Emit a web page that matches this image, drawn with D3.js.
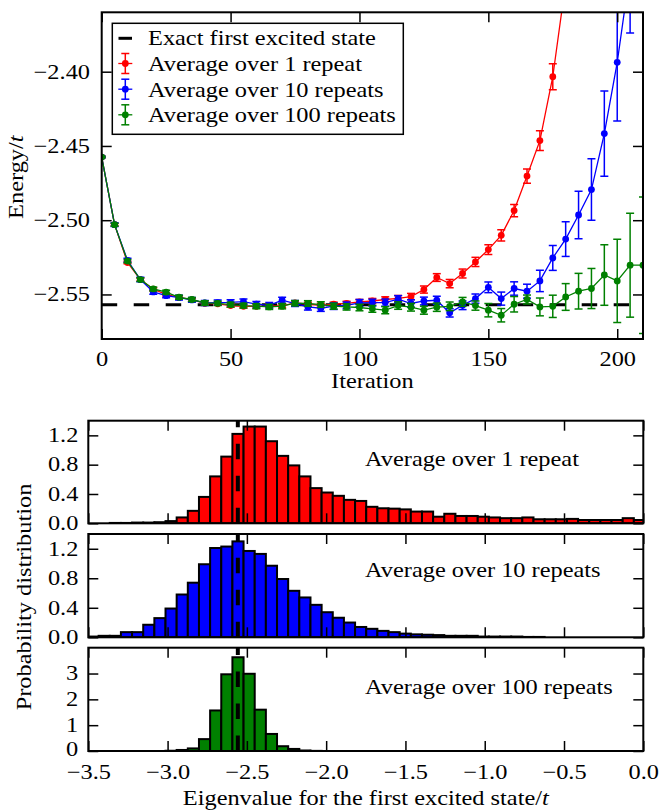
<!DOCTYPE html>
<html><head><meta charset="utf-8">
<script src="https://cdnjs.cloudflare.com/ajax/libs/d3/7.8.5/d3.min.js"></script>
<style>
body{margin:0;background:#fff;}
svg{display:block;}
text{font-family:"Liberation Serif","Times New Roman",serif;font-size:21px;fill:#000;}
</style></head><body>
<svg id="chart" width="660" height="811"></svg>
<script>
// ---------------- DATA ----------------
const iterations = [0,5,10,15,20,25,30,35,40,45,50,55,60,65,70,75,80,85,90,95,100,105,110,115,120,125,130,135,140,145,150,155,160,165,170,175,180,185,190,195,200,205,210];
const exactEnergy = -2.557;

const redEnergy = [-2.4575,-2.5030,-2.5285,-2.5400,-2.5465,-2.5500,-2.5520,-2.5535,-2.5560,-2.5563,-2.5575,-2.5580,-2.5580,-2.5577,-2.5577,-2.5557,-2.5566,-2.5573,-2.5566,-2.5560,-2.5550,-2.5544,-2.5534,-2.5526,-2.5514,-2.5467,-2.5386,-2.5427,-2.5359,-2.5281,-2.5198,-2.5102,-2.4935,-2.4703,-2.4464,-2.4034,-2.3400,-2.2700];
const redError  = [0.0005,0.0008,0.0009,0.0009,0.0010,0.0010,0.0010,0.0010,0.0010,0.0010,0.0011,0.0011,0.0011,0.0012,0.0012,0.0012,0.0013,0.0013,0.0014,0.0014,0.0016,0.0017,0.0018,0.0019,0.0021,0.0024,0.0026,0.0028,0.0030,0.0031,0.0033,0.0038,0.0041,0.0048,0.0066,0.0087,0.0110,0.0140];

const blueEnergy = [-2.4575,-2.5030,-2.5270,-2.5400,-2.5483,-2.5508,-2.5522,-2.5537,-2.5557,-2.5555,-2.5553,-2.5548,-2.5566,-2.5573,-2.5539,-2.5561,-2.5584,-2.5593,-2.5579,-2.5573,-2.5557,-2.5555,-2.5555,-2.5532,-2.5561,-2.5544,-2.5539,-2.5624,-2.5573,-2.5528,-2.5452,-2.5528,-2.5460,-2.5478,-2.5409,-2.5254,-2.5127,-2.4965,-2.4794,-2.4417,-2.3937,-2.3320,-2.2500];
const blueError  = [0.0005,0.0012,0.0014,0.0015,0.0015,0.0015,0.0016,0.0016,0.0017,0.0017,0.0018,0.0018,0.0019,0.0019,0.0020,0.0020,0.0021,0.0021,0.0022,0.0022,0.0023,0.0023,0.0024,0.0024,0.0025,0.0026,0.0027,0.0028,0.0029,0.0031,0.0036,0.0044,0.0045,0.0047,0.0072,0.0084,0.0117,0.0160,0.0207,0.0287,0.0395,0.0420,0.0500];

const greenEnergy = [-2.4575,-2.5030,-2.5275,-2.5400,-2.5463,-2.5485,-2.5519,-2.5534,-2.5557,-2.5560,-2.5568,-2.5575,-2.5579,-2.5584,-2.5579,-2.5559,-2.5561,-2.5568,-2.5579,-2.5584,-2.5588,-2.5597,-2.5606,-2.5575,-2.5586,-2.5606,-2.5586,-2.5580,-2.5550,-2.5575,-2.5606,-2.5640,-2.5566,-2.5534,-2.5584,-2.5580,-2.5517,-2.5478,-2.5460,-2.5369,-2.5409,-2.5303,-2.5303];
const greenError  = [0.0005,0.0010,0.0011,0.0012,0.0013,0.0013,0.0014,0.0014,0.0015,0.0015,0.0016,0.0016,0.0017,0.0017,0.0018,0.0018,0.0019,0.0019,0.0020,0.0021,0.0022,0.0023,0.0024,0.0025,0.0026,0.0027,0.0028,0.0029,0.0030,0.0031,0.0045,0.0045,0.0052,0.0030,0.0060,0.0075,0.0090,0.0120,0.0135,0.0204,0.0280,0.0350,0.0460];

const seriesNames = ["Average over 1 repeat","Average over 10 repeats","Average over 100 repeats"];
const exactLabel = "Exact first excited state";

// histogram bins (density), 50 bins
const histBinStart = -3.5053;
const histBinWidth = 0.07032;
const hist1Repeat = [0,0,0.005,0.005,0.01,0.01,0.015,0.03,0.08,0.17,0.36,0.64,0.91,1.22,1.32,1.32,1.12,0.92,0.79,0.64,0.48,0.42,0.375,0.32,0.305,0.225,0.205,0.20,0.19,0.16,0.16,0.09,0.13,0.10,0.10,0.09,0.08,0.07,0.07,0.08,0.055,0.055,0.055,0.06,0.045,0.045,0.045,0.045,0.07,0.045];
const hist10Repeats = [0.01,0.02,0.02,0.07,0.07,0.17,0.26,0.39,0.58,0.74,0.99,1.21,1.23,1.30,1.17,1.13,0.97,0.79,0.63,0.54,0.44,0.34,0.265,0.20,0.14,0.115,0.087,0.07,0.05,0.04,0.035,0.03,0.02,0.02,0.02,0.01,0.01,0.01,0.01,0.005,0.005,0,0,0,0,0,0,0,0,0];
const hist100Repeats = [0,0,0,0,0,0,0,0.01,0.04,0.10,0.46,1.57,2.97,3.63,2.99,1.60,0.66,0.185,0.08,0.02,0.005,0,0,0,0,0,0,0,0,0,0,0,0,0,0,0,0,0,0,0,0,0,0,0,0,0,0,0,0,0];

// tick values & labels
const topXTicks = [0,50,100,150,200];
const topXTickLabels = ["0","50","100","150","200"];
const topYTicks = [-2.55,-2.50,-2.45,-2.40];
const topYTickLabels = ["\u22122.55","\u22122.50","\u22122.45","\u22122.40"];
const histXTicks = [-3.5,-3.0,-2.5,-2.0,-1.5,-1.0,-0.5,0.0];
const histXTickLabels = ["\u22123.5","\u22123.0","\u22122.5","\u22122.0","\u22121.5","\u22121.0","\u22120.5","0.0"];
const histYTicksSmall = [0,0.4,0.8,1.2];
const histYTickLabelsSmall = ["0.0","0.4","0.8","1.2"];
const histYTicksLarge = [0,1,2,3];
const histYTickLabelsLarge = ["0","1","2","3"];

// ---------------- DRAW ----------------
const svg = d3.select("#chart");
const colors = ["#ff0000","#0000ff","#008000"];
const TICK = 10;

function styleAxis(g){
  g.select(".domain").remove();
  g.selectAll(".tick line").attr("stroke","#000").attr("stroke-width",1.5);
}

// ===== Top chart =====
const T = {l:101.7, r:643, t:12.3, b:339};
const topX = d3.scaleLinear().domain([0,210]).range([T.l,T.r]);
const topY = d3.scaleLinear().domain([-2.58,-2.36]).range([T.b,T.t]);

svg.append("clipPath").attr("id","topClip").append("rect")
  .attr("x",T.l).attr("y",T.t).attr("width",T.r-T.l).attr("height",T.b-T.t);

const plot = svg.append("g").attr("clip-path","url(#topClip)");
plot.append("line")
  .attr("x1",topX(0)).attr("x2",topX(210))
  .attr("y1",topY(exactEnergy)).attr("y2",topY(exactEnergy))
  .attr("stroke","#000").attr("stroke-width",3).attr("stroke-dasharray","15.5,16.5");

const seriesData = [[redEnergy,redError],[blueEnergy,blueError],[greenEnergy,greenError]];
seriesData.forEach(([vals,errs],si)=>{
  const pts = vals.map((v,i)=>({x:iterations[i], y:v, e:errs[i]}));
  const c = colors[si];
  const g = plot.append("g");
  g.append("path").datum(pts)
    .attr("d", d3.line().x(d=>topX(d.x)).y(d=>topY(d.y)))
    .attr("fill","none").attr("stroke",c).attr("stroke-width",1.3);
  const eb = g.selectAll("g.eb").data(pts).enter().append("g");
  eb.append("line").attr("x1",d=>topX(d.x)).attr("x2",d=>topX(d.x))
    .attr("y1",d=>topY(d.y-d.e)).attr("y2",d=>topY(d.y+d.e))
    .attr("stroke",c).attr("stroke-width",1.5);
  [1,-1].forEach(s=>{
    eb.append("line").attr("x1",d=>topX(d.x)-4).attr("x2",d=>topX(d.x)+4)
      .attr("y1",d=>topY(d.y+s*d.e)).attr("y2",d=>topY(d.y+s*d.e))
      .attr("stroke",c).attr("stroke-width",1.5);
  });
  g.selectAll("circle").data(pts).enter().append("circle")
    .attr("cx",d=>topX(d.x)).attr("cy",d=>topY(d.y)).attr("r",3.4).attr("fill",c);
});

// axes
const axB = svg.append("g").attr("transform",`translate(0,${T.b})`)
  .call(d3.axisBottom(topX).tickValues(topXTicks).tickFormat((d,i)=>topXTickLabels[i]).tickSize(-TICK));
styleAxis(axB); axB.selectAll("text").attr("y",26.7).attr("dy",null);
const axT = svg.append("g").attr("transform",`translate(0,${T.t})`)
  .call(d3.axisTop(topX).tickValues(topXTicks).tickFormat("").tickSize(-TICK));
styleAxis(axT);
const axL = svg.append("g").attr("transform",`translate(${T.l},0)`)
  .call(d3.axisLeft(topY).tickValues(topYTicks).tickFormat((d,i)=>topYTickLabels[i]).tickSize(-TICK).tickPadding(11.7));
styleAxis(axL); axL.selectAll("text").attr("dy","0.3em");
const axR = svg.append("g").attr("transform",`translate(${T.r},0)`)
  .call(d3.axisRight(topY).tickValues(topYTicks).tickFormat("").tickSize(-TICK));
styleAxis(axR);

svg.append("rect").attr("x",T.l).attr("y",T.t).attr("width",T.r-T.l).attr("height",T.b-T.t)
  .attr("fill","none").attr("stroke","#000").attr("stroke-width",2);

svg.append("text").attr("x",(T.l+T.r)/2).attr("y",388).attr("text-anchor","middle").text("Iteration");
const yl = svg.append("text").attr("transform",`translate(23,${(T.t+T.b)/2+1.5}) rotate(-90)`).attr("text-anchor","middle");
yl.append("tspan").text("Energy/");
yl.append("tspan").attr("font-style","italic").text("t");

// legend
const L = svg.append("g");
L.append("rect").attr("x",112.3).attr("y",23.3).attr("width",291).attr("height",111)
  .attr("fill","#fff").attr("stroke","#000").attr("stroke-width",1.5);
const legBase = [45,71,96.7,122.3];
L.append("line").attr("x1",118.5).attr("x2",132).attr("y1",legBase[0]-6.7).attr("y2",legBase[0]-6.7)
  .attr("stroke","#000").attr("stroke-width",3);
L.append("text").attr("x",148).attr("y",legBase[0]).text(exactLabel);
seriesNames.forEach((nm,i)=>{
  const cy = legBase[i+1]-7.5, cx = 125.3, c = colors[i];
  L.append("line").attr("x1",118.3).attr("x2",132.3).attr("y1",cy).attr("y2",cy).attr("stroke",c).attr("stroke-width",1.3);
  L.append("line").attr("x1",cx).attr("x2",cx).attr("y1",cy-10).attr("y2",cy+10).attr("stroke",c).attr("stroke-width",1.5);
  [-10,10].forEach(o=>L.append("line").attr("x1",cx-4).attr("x2",cx+4).attr("y1",cy+o).attr("y2",cy+o).attr("stroke",c).attr("stroke-width",1.5));
  L.append("circle").attr("cx",cx).attr("cy",cy).attr("r",3.4).attr("fill",c);
  L.append("text").attr("x",148).attr("y",legBase[i+1]).text(nm);
});

// ===== Histograms =====
const H = {l:88.3, r:643.3};
const histX = d3.scaleLinear().domain([-3.5,0]).range([H.l,H.r]);
const panels = [
  {vals:hist1Repeat, top:420.7, bottom:523.3, ymax:1.4, ticks:histYTicksSmall, labels:histYTickLabelsSmall, base:466, name:seriesNames[0]},
  {vals:hist10Repeats, top:534, bottom:637.3, ymax:1.4, ticks:histYTicksSmall, labels:histYTickLabelsSmall, base:576.7, name:seriesNames[1]},
  {vals:hist100Repeats, top:647.7, bottom:751, ymax:4, ticks:histYTicksLarge, labels:histYTickLabelsLarge, base:694, name:seriesNames[2]}
];
panels.forEach((p,pi)=>{
  const y = d3.scaleLinear().domain([0,p.ymax]).range([p.bottom,p.top]);
  const cid = "hclip"+pi;
  svg.append("clipPath").attr("id",cid).append("rect")
    .attr("x",H.l).attr("y",p.top).attr("width",H.r-H.l).attr("height",p.bottom-p.top);
  const g = svg.append("g").attr("clip-path",`url(#${cid})`);
  g.selectAll("rect").data(p.vals).enter().append("rect")
    .attr("x",(d,k)=>histX(histBinStart+k*histBinWidth))
    .attr("width",(d,k)=>histX(histBinStart+(k+1)*histBinWidth)-histX(histBinStart+k*histBinWidth))
    .attr("y",d=>y(d)).attr("height",d=>y(0)-y(d))
    .attr("fill",colors[pi]).attr("stroke","#000").attr("stroke-width",2);
  g.append("line").attr("x1",histX(exactEnergy)).attr("x2",histX(exactEnergy))
    .attr("y1",p.bottom).attr("y2",p.top)
    .attr("stroke","#000").attr("stroke-width",4).attr("stroke-dasharray","15.5,16.5");

  const b = svg.append("g").attr("transform",`translate(0,${p.bottom})`)
    .call(d3.axisBottom(histX).tickValues(histXTicks)
      .tickFormat((d,i)=> pi===2 ? histXTickLabels[i] : "").tickSize(-TICK));
  styleAxis(b); b.selectAll("text").attr("y",28).attr("dy",null);
  const t = svg.append("g").attr("transform",`translate(0,${p.top})`)
    .call(d3.axisTop(histX).tickValues(histXTicks).tickFormat("").tickSize(-TICK));
  styleAxis(t);
  const l = svg.append("g").attr("transform",`translate(${H.l},0)`)
    .call(d3.axisLeft(y).tickValues(p.ticks).tickFormat((d,i)=>p.labels[i]).tickSize(-TICK).tickPadding(10));
  styleAxis(l);
  l.selectAll("text").attr("dy",(d,i)=> (pi===2 && i===0) ? "0.2em" : "0.3em");
  const r = svg.append("g").attr("transform",`translate(${H.r},0)`)
    .call(d3.axisRight(y).tickValues(p.ticks).tickFormat("").tickSize(-TICK));
  styleAxis(r);
  svg.append("rect").attr("x",H.l).attr("y",p.top).attr("width",H.r-H.l).attr("height",p.bottom-p.top)
    .attr("fill","none").attr("stroke","#000").attr("stroke-width",2);
  svg.append("text").attr("x",365).attr("y",p.base).text(p.name);
});

const xl = svg.append("text").attr("x",(H.l+H.r)/2).attr("y",804.5).attr("text-anchor","middle");
xl.append("tspan").text("Eigenvalue for the first excited state/");
xl.append("tspan").attr("font-style","italic").text("t");
svg.append("text").attr("transform","translate(31,597) rotate(-90)").attr("text-anchor","middle")
  .text("Probability distribution");

// widen the serif glyphs to mimic the wider original typeface
svg.selectAll("text").each(function(){
  const w = this.getComputedTextLength();
  if (w > 0) d3.select(this).attr("textLength", (w*1.16).toFixed(1)).attr("lengthAdjust","spacingAndGlyphs");
});
</script>
</body></html>
